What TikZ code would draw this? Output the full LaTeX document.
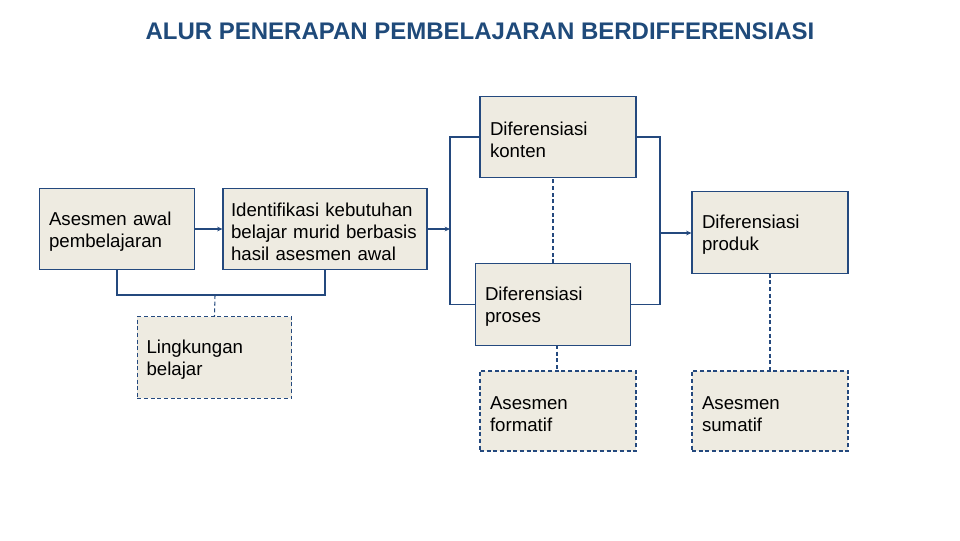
\documentclass[tikz,border=0pt]{standalone}
\usepackage{fontspec}
\setmainfont{Liberation Sans}
\usetikzlibrary{positioning,arrows.meta,calc}
\definecolor{titleblue}{HTML}{1F4A7A}
\definecolor{lineblue}{HTML}{24497E}
\definecolor{boxfill}{HTML}{EEEBE1}

\begin{document}
\begin{tikzpicture}[x=0.75pt,y=-0.75pt,
    box/.style={draw=lineblue,line width=0.8pt,fill=boxfill,minimum width=116pt,minimum height=61pt,text width=102pt,inner xsep=7pt,align=left,font=\fontsize{14}{16.5}\selectfont,execute at begin node={\rule{0pt}{14pt}}},
    dbox/.style={box,dash pattern=on 3pt off 2pt},
    link/.style={draw=lineblue,line width=0.8pt},
    dlink/.style={link,dash pattern=on 3pt off 2pt},
    arr/.style={link,-{Stealth[length=4pt,width=3.5pt]}}]
    \useasboundingbox (0,0) rectangle (960,540);

    \node[font=\bfseries\fontsize{18}{22}\selectfont,text=titleblue] (title) at (480,31) {ALUR PENERAPAN PEMBELAJARAN BERDIFFERENSIASI};

    \node[box] (asesmen) at (117,229) {Asesmen awal\\pembelajaran};
    \node[box,minimum width=153pt,text width=141pt,inner xsep=6pt] (identifikasi) at (325,229) {Identifikasi kebutuhan\\belajar murid berbasis\\hasil asesmen awal};
    \node[dbox] (lingkungan) at (214.5,357.5) {Lingkungan\\belajar};

    \node[box,minimum width=117pt] (konten) at (558,137) {Diferensiasi\\konten};
    \node[box] (proses) at (553,304.5) {Diferensiasi\\proses};
    \node[box,minimum width=117pt] (produk) at (770,232.5) {Diferensiasi\\produk};
    \node[dbox,minimum width=117pt,minimum height=60pt] (formatif) at (558,411) {Asesmen\\formatif};
    \node[dbox,minimum width=117pt,minimum height=60pt] (sumatif) at (770,411) {Asesmen\\sumatif};

    \coordinate (jb) at (215,295);
    \coordinate (jl) at (450,229);
    \coordinate (jr) at (660,233);
    \coordinate (ps) at (557,345);

    \draw[arr] (asesmen) -- (identifikasi);
    \draw[arr] (identifikasi.east) -- (jl);
    \draw[link] (asesmen.south) |- (jb) -| (identifikasi.south);
    \draw[dlink] (jb) -- (lingkungan.north);
    \draw[link] (konten.west) -| (jl) |- (proses.west);
    \draw[link] (konten.east) -| (jr) |- (proses.east);
    \draw[arr] (jr) -- (produk.west |- jr);
    \draw[dlink] (proses.north) -- (proses.north |- konten.south);
    \draw[dlink] (ps) -- (ps |- formatif.north);
    \draw[dlink] (produk.south) -- (sumatif.north);
\end{tikzpicture}
\end{document}
